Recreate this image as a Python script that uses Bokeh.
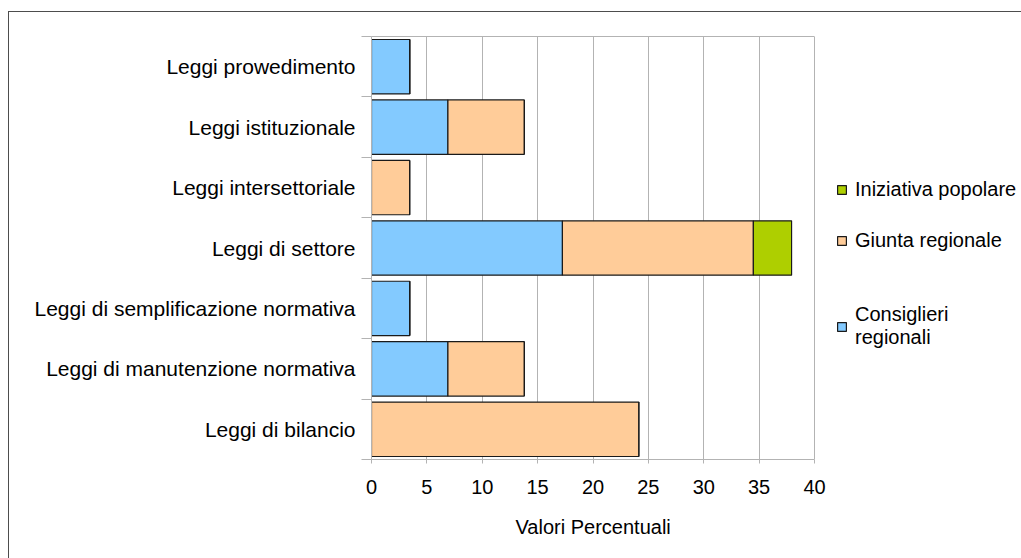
from bokeh.plotting import figure
from bokeh.models import (ColumnDataSource, Range1d, FixedTicker, Legend, LegendItem,
                          LinearAxis, Title)
from bokeh.embed import file_html
from bokeh.resources import INLINE

# Share of laws by initiative (percent), one row per law type, listed top to bottom
categories = [
    "Leggi prowedimento",
    "Leggi istituzionale",
    "Leggi intersettoriale",
    "Leggi di settore",
    "Leggi di semplificazione normativa",
    "Leggi di manutenzione normativa",
    "Leggi di bilancio",
]
consiglieri = [3.45, 6.90, 0.0, 17.24, 3.45, 6.90, 0.0]
giunta = [0.0, 6.90, 3.45, 17.24, 0.0, 6.90, 24.14]
iniziativa = [0.0, 0.0, 0.0, 3.45, 0.0, 0.0, 0.0]
series_names = ["Consiglieri\nregionali", "Giunta regionale", "Iniziativa popolare"]
x_ticks = [0, 5, 10, 15, 20, 25, 30, 35, 40]
x_title = "Valori Percentuali"

FONT = "Liberation Sans"
GRID = "#b3b3b3"
colors = ["#83caff", "#ffcc99", "#aecf00"]

n = len(categories)
ypos = [n - i - 0.5 for i in range(n)]
src = ColumnDataSource(dict(y=ypos, consiglieri=consiglieri, giunta=giunta,
                            iniziativa=iniziativa))

# The value scale covers 0-40 over 443 px; the frame runs on to the right edge
# so the legend can sit inside it.
AXIS_PX = 443
FRAME_W = 650
x_end = x_ticks[-1] * FRAME_W / AXIS_PX

p = figure(frame_width=FRAME_W, frame_height=423,
           x_range=Range1d(0, x_end), y_range=Range1d(0, n),
           output_backend="svg", toolbar_location=None,
           min_border_left=362, min_border_top=24,
           min_border_right=0, min_border_bottom=99,
           margin=(11, 0, 0, 8))
p.styles = {"border-top": "1px solid #4d4d4d", "border-left": "1px solid #4d4d4d"}
p.background_fill_color = "white"
p.border_fill_color = "white"
p.outline_line_color = None

bars = p.hbar_stack(["consiglieri", "giunta", "iniziativa"], y="y", height=0.9,
                    fill_color=colors, line_color="#1a1a1a", line_width=1.2,
                    source=src)

# x axis
p.xaxis.ticker = FixedTicker(ticks=x_ticks)
p.xaxis.bounds = (x_ticks[0], x_ticks[-1])
p.xaxis.axis_line_color = GRID
p.xaxis.major_tick_line_color = GRID
p.xaxis.major_tick_in = 0
p.xaxis.major_tick_out = 4
p.xaxis.minor_tick_line_color = None
p.xaxis.major_label_text_font = FONT
p.xaxis.major_label_text_font_size = "20px"
p.xaxis.major_label_text_color = "black"
p.xaxis.major_label_standoff = 16

# axis title, centred under the 0-40 span
title_w = 155
p.add_layout(Title(text=x_title, align="left",
                   offset=AXIS_PX / 2 - title_w / 2, standoff=34,
                   text_font=FONT, text_font_size="20px",
                   text_font_style="normal", text_color="black"), "below")

# top edge of the plotting area, 0-40 only
top = LinearAxis(bounds=(x_ticks[0], x_ticks[-1]), ticker=FixedTicker(ticks=[]),
                 axis_line_color=GRID, major_tick_line_color=None,
                 minor_tick_line_color=None, major_label_text_font_size="0px")
p.add_layout(top, "above")

# y axis: names at row centres, short ticks on row boundaries
p.yaxis.ticker = FixedTicker(ticks=ypos, minor_ticks=list(range(n + 1)))
p.yaxis.major_label_overrides = {y: c for y, c in zip(ypos, categories)}
p.yaxis.axis_line_color = GRID
p.yaxis.major_tick_line_color = None
p.yaxis.major_tick_in = 0
p.yaxis.major_tick_out = 0
p.yaxis.minor_tick_line_color = GRID
p.yaxis.minor_tick_in = 0
p.yaxis.minor_tick_out = 10
p.yaxis.major_label_text_font = FONT
p.yaxis.major_label_text_font_size = "21px"
p.yaxis.major_label_text_color = "black"
p.yaxis.major_label_standoff = 6

p.xgrid.grid_line_color = GRID
p.xgrid.ticker = FixedTicker(ticks=x_ticks)
p.ygrid.grid_line_color = None


def make_legend(items, loc):
    leg = Legend(items=items, location=loc, orientation="vertical",
                 border_line_color=None, background_fill_alpha=0,
                 padding=0, margin=0, spacing=27,
                 glyph_width=11, glyph_height=11, label_standoff=8,
                 label_height=24, label_text_font=FONT,
                 label_text_font_size="20px", label_text_color="black",
                 label_text_line_height=1.25)
    p.add_layout(leg, "center")
    return leg


make_legend([LegendItem(label=series_names[2], renderers=[bars[2]]),
             LegendItem(label=series_names[1], renderers=[bars[1]])], (465, 207))
make_legend([LegendItem(label=series_names[0], renderers=[bars[0]])], (465, 110))

open("out.html", "w").write(file_html(p, INLINE))
